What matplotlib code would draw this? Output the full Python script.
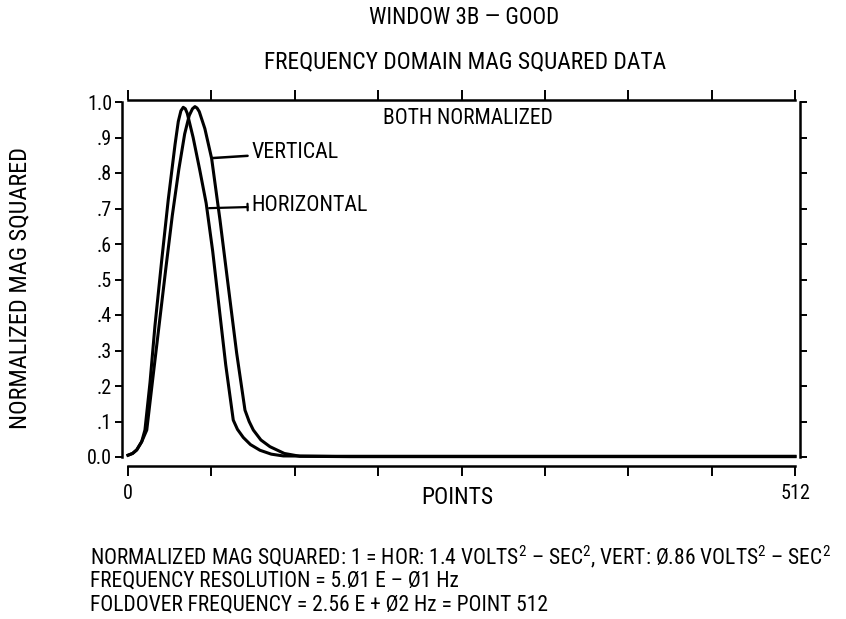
import matplotlib
matplotlib.use("Agg")
import matplotlib.pyplot as plt

fams = ['Liberation Sans Narrow', 'Roboto Condensed', 'DejaVu Sans Condensed',
        'Open Sans Condensed', 'Noto Sans Condensed', 'Liberation Sans', 'DejaVu Sans']
plt.rcParams['font.family'] = fams
plt.rcParams['font.stretch'] = 'condensed'
plt.rcParams['mathtext.fontset'] = 'custom'
plt.rcParams['mathtext.rm'] = fams[1]

# horizontal curve (peaks first)
hor_x = [0, 3.5, 6.7, 10.5, 13.0, 16.9, 20.7, 25.9, 30.9, 36.1, 38.6, 40.6, 42.4, 44.0, 45.5,
         50.0, 55.0, 60.0, 65.0, 70.0, 75.0, 80.8, 84.0, 88.5, 94.0, 101.3, 110.0, 119.2, 160, 512]
hor_y = [0.005, 0.010, 0.020, 0.043, 0.076, 0.210, 0.370, 0.555, 0.725, 0.880, 0.945, 0.975, 0.985, 0.981, 0.968,
         0.900, 0.810, 0.715, 0.580, 0.420, 0.260, 0.104, 0.078, 0.055, 0.035, 0.019, 0.008, 0.003, 0.002, 0.002]

# vertical curve
ver_x = [0, 3.5, 6.7, 10.5, 14.4, 19.0, 24.0, 29.0, 34.0, 39.0, 43.5, 47.0, 49.5, 51.4, 53.0, 54.7,
         59.0, 64.2, 70.6, 77.0, 83.4, 89.8, 93.0, 96.2, 102.0, 109.0, 120.0, 132.0, 170, 512]
ver_y = [0.005, 0.010, 0.020, 0.043, 0.076, 0.220, 0.375, 0.530, 0.680, 0.810, 0.910, 0.962, 0.981, 0.987, 0.983, 0.973,
         0.925, 0.841, 0.668, 0.480, 0.293, 0.132, 0.100, 0.076, 0.048, 0.029, 0.010, 0.002, 0.001, 0.001]

x_ticks = [0, 64, 128, 192, 256, 320, 384, 448, 512]
x_ticklabels = ['0', '', '', '', '', '', '', '', '512']
y_ticks = [0.0, 0.1, 0.2, 0.3, 0.4, 0.5, 0.6, 0.7, 0.8, 0.9, 1.0]
y_ticklabels = ['0.0', '.1', '.2', '.3', '.4', '.5', '.6', '.7', '.8', '.9', '1.0']

W, H = 846, 619
fig = plt.figure(figsize=(W / 100, H / 100), dpi=100)
ax = fig.add_axes([128 / W, 1 - 457 / H, (795 - 128) / W, (457 - 102) / H])

ax.plot(hor_x, hor_y, color='black', lw=2.2, solid_joinstyle='round', clip_on=False)
ax.plot(ver_x, ver_y, color='black', lw=2.2, solid_joinstyle='round', clip_on=False)

ax.set_xlim(0, 512)
ax.set_ylim(0, 1.0)

for side in ['left', 'right', 'top', 'bottom']:
    ax.spines[side].set_linewidth(1.8)
ax.spines['left'].set_position(('outward', 4.5))
ax.spines['right'].set_position(('outward', 3.5))
ax.spines['bottom'].set_position(('outward', 6.5))
ax.spines['top'].set_position(('outward', 1.5))

ax.set_xticks(x_ticks)
ax.set_xticklabels(x_ticklabels)
ax.set_yticks(y_ticks)
ax.set_yticklabels(y_ticklabels)
ax.tick_params(axis='x', which='both', direction='out', length=7, width=1.4,
               top=True, bottom=True, labelsize=14.5, pad=6)
ax.tick_params(axis='y', which='both', direction='out', length=5, width=1.4,
               left=True, right=True, labelsize=14.5, pad=2)

ax.annotate('VERTICAL', xy=(64.5, 0.842), xytext=(95, 0.857), fontsize=15.8,
            va='center', ha='left',
            arrowprops=dict(arrowstyle='-', lw=1.8, color='black', shrinkA=1, shrinkB=0))
ax.annotate('HORIZONTAL', xy=(62.2, 0.701), xytext=(95, 0.709), fontsize=15.8,
            va='center', ha='left',
            arrowprops=dict(arrowstyle=']-, widthA=0.15, lengthA=0', lw=1.6, color='black',
                            shrinkA=1, shrinkB=0))

fig.text(464 / W, 1 - 18 / H, 'WINDOW 3B — GOOD', ha='center', va='center', fontsize=16.5)
fig.text(465 / W, 1 - 62 / H, 'FREQUENCY DOMAIN MAG SQUARED DATA', ha='center', va='center', fontsize=16.8)
fig.text(468 / W, 1 - 118 / H, 'BOTH NORMALIZED', ha='center', va='center', fontsize=15.5)
fig.text(457 / W, 1 - 497 / H, 'POINTS', ha='center', va='center', fontsize=17)
fig.text(20 / W, 1 - 288 / H, 'NORMALIZED MAG SQUARED', ha='center', va='center',
         rotation=90, fontsize=17.5)

lines = [
    r'NORMALIZED MAG SQUARED: 1 = HOR: 1.4 VOLTS$^2$ – SEC$^2$, VERT: Ø.86 VOLTS$^2$ – SEC$^2$',
    'FREQUENCY RESOLUTION = 5.Ø1 E – Ø1 Hz',
    'FOLDOVER FREQUENCY = 2.56 E + Ø2 Hz = POINT 512',
]
for i, s in enumerate(lines):
    fig.text(90 / W, 1 - (557 + 24 * i) / H, s, ha='left', va='center', fontsize=15.5)

fig.savefig('out.png', dpi=100)
